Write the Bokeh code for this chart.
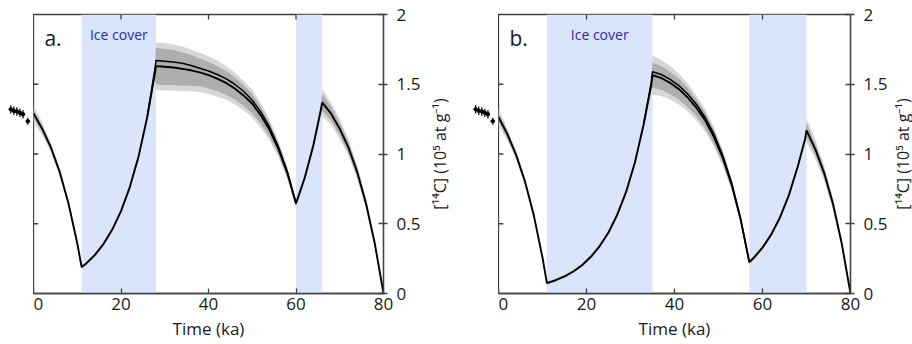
import math
from bokeh.plotting import figure
from bokeh.layouts import row
from bokeh.models import Range1d, FixedTicker, Label
from bokeh.embed import file_html
from bokeh.resources import INLINE

FONT = "Open Sans"
AXC = "#404040"
TXT = "#1a1a1a"

x_ticks = [0, 20, 40, 60, 80]
y_ticks = [0, 0.5, 1, 1.5, 2]
y_tick_labels = ["0", "0.5", "1", "1.5", "2"]
x_label = "Time (ka)"
y_label = "[\u00b9\u2074C] (10\u2075 at g\u207b\u00b9)"

# ---------------- panel a ----------------
a_x = [0, 2, 4, 6, 8, 10, 11, 12, 14, 16, 18, 20, 22, 24, 26, 27.7, 28, 30, 32, 34, 36, 38, 40,
       42, 44, 46, 48, 50, 52, 54, 56, 58, 60, 62, 64, 65.7, 66, 68, 70, 72, 74, 76, 78, 80]
a_c = [1.29, 1.18, 1.045, 0.87, 0.645, 0.36, 0.19, 0.214, 0.275, 0.355, 0.458, 0.59, 0.761, 0.981,
       1.265, 1.57, 1.63, 1.625, 1.62, 1.61, 1.60, 1.585, 1.565, 1.54, 1.51, 1.47, 1.42, 1.36, 1.275,
       1.17, 1.035, 0.865, 0.645, 0.83, 1.066, 1.32, 1.37, 1.29, 1.18, 1.045, 0.87, 0.645, 0.36, 0.0]
a_ux = [26, 27.7, 28, 30, 32, 34, 36, 38, 40, 42, 44, 46, 48, 50, 52, 54, 56, 58, 60]
a_uc = [1.27, 1.60, 1.67, 1.665, 1.66, 1.65, 1.635, 1.615, 1.595, 1.57, 1.54, 1.50, 1.45, 1.385,
        1.30, 1.19, 1.05, 0.875, 0.645]
a_in = [0.03, 0.025, 0.02, 0.018, 0.015, 0.012, 0.01, 0.01, 0.01, 0.012, 0.013, 0.015, 0.018, 0.02,
        0.025, 0.03, 0.13, 0.13, 0.125, 0.12, 0.11, 0.10, 0.095, 0.09, 0.085, 0.08, 0.075, 0.07, 0.06,
        0.05, 0.04, 0.03, 0.02, 0.02, 0.025, 0.03, 0.06, 0.05, 0.045, 0.04, 0.035, 0.03, 0.02, 0.0]
a_out = [0.06, 0.045, 0.035, 0.03, 0.025, 0.02, 0.015, 0.015, 0.015, 0.018, 0.02, 0.022, 0.025, 0.03,
         0.04, 0.05, 0.17, 0.17, 0.165, 0.16, 0.15, 0.14, 0.135, 0.13, 0.12, 0.115, 0.105, 0.10, 0.09,
         0.075, 0.06, 0.045, 0.035, 0.03, 0.04, 0.05, 0.10, 0.08, 0.07, 0.06, 0.05, 0.04, 0.03, 0.0]
a_ice_start = [11, 60]
a_ice_end = [28, 66]

# ---------------- panel b ----------------
b_x = [0, 2, 4, 6, 8, 10, 11, 13, 15, 17, 19, 21, 23, 25, 27, 29, 31, 33, 34.7, 35, 37, 39, 41, 43,
       45, 47, 49, 51, 53, 55, 57, 58, 60, 62, 64, 66, 68, 69.7, 70, 72, 74, 76, 78, 80]
b_c = [1.265, 1.142, 0.994, 0.805, 0.564, 0.258, 0.074, 0.095, 0.122, 0.158, 0.203, 0.263, 0.34,
       0.437, 0.565, 0.728, 0.939, 1.213, 1.49, 1.565, 1.545, 1.51, 1.465, 1.405, 1.33, 1.24, 1.12,
       0.97, 0.78, 0.535, 0.225, 0.255, 0.329, 0.424, 0.547, 0.705, 0.908, 1.11, 1.17, 1.035, 0.865,
       0.645, 0.36, 0.0]
b_ux = [33, 34.7, 35, 37, 39, 41, 43, 45, 47, 49, 51, 53, 55, 57]
b_uc = [1.22, 1.51, 1.59, 1.57, 1.535, 1.49, 1.43, 1.355, 1.26, 1.14, 0.985, 0.79, 0.54, 0.225]
b_in = [0.03, 0.025, 0.02, 0.018, 0.015, 0.01, 0.008, 0.008, 0.008, 0.008, 0.01, 0.01, 0.012, 0.012,
        0.014, 0.016, 0.018, 0.02, 0.022, 0.09, 0.085, 0.08, 0.075, 0.07, 0.06, 0.055, 0.05, 0.04,
        0.03, 0.02, 0.012, 0.012, 0.012, 0.012, 0.014, 0.016, 0.018, 0.02, 0.05, 0.04, 0.035, 0.03,
        0.02, 0.0]
b_out = [0.06, 0.045, 0.035, 0.03, 0.025, 0.018, 0.015, 0.012, 0.012, 0.013, 0.015, 0.016, 0.018,
         0.02, 0.022, 0.025, 0.028, 0.03, 0.035, 0.14, 0.13, 0.12, 0.11, 0.10, 0.09, 0.08, 0.07, 0.06,
         0.045, 0.03, 0.02, 0.018, 0.018, 0.018, 0.02, 0.024, 0.028, 0.03, 0.085, 0.07, 0.055, 0.045,
         0.03, 0.0]
b_ice_start = [11, 57]
b_ice_end = [35, 70]

# measured concentrations (drawn left of the time axis)
obs_x = [-5.2, -4.5, -3.8, -3.1, -2.4, -1.3]
obs_c = [1.32, 1.31, 1.305, 1.295, 1.285, 1.235]
obs_err = [0.03, 0.03, 0.03, 0.03, 0.03, 0.025]

TOP, FH, BOT = 14, 279, 51


def bare(fw, xr):
    p = figure(frame_width=fw, frame_height=FH, x_range=xr, y_range=Range1d(0, 2),
               x_axis_location=None, y_axis_location=None, toolbar_location=None,
               output_backend="svg", min_border_left=0, min_border_right=0,
               min_border_top=TOP, min_border_bottom=BOT)
    p.outline_line_color = None
    p.xgrid.visible = False
    p.ygrid.visible = False
    return p


def make_obs(x_start, fw):
    p = bare(fw, Range1d(x_start, 0))
    p.segment(x0=obs_x, y0=[c - e for c, e in zip(obs_c, obs_err)], x1=obs_x,
              y1=[c + e for c, e in zip(obs_c, obs_err)], line_color="black", line_width=1.2)
    p.segment(x0=[x - 0.45 for x in obs_x], y0=obs_c, x1=[x + 0.45 for x in obs_x], y1=obs_c,
              line_color="black", line_width=1.2)
    p.scatter(obs_x, obs_c, size=3.5, color="black")
    return p


def make_ylabel(px_start, px_end, anchor):
    # x range is in pixels measured from the right axis line
    p = bare(px_end - px_start, Range1d(px_start, px_end))
    p.add_layout(Label(x=anchor, y=1.0, text=y_label, angle=math.pi / 2, text_align="center",
                       text_baseline="middle", text_font=FONT, text_font_size="16px",
                       text_color=TXT))
    return p


def make_panel(letter, xs, cs, ux, uc, w_in, w_out, ice_s, ice_e, fw, right_border):
    p = figure(frame_width=fw, frame_height=FH, x_range=Range1d(0, 80), y_range=Range1d(0, 2),
               y_axis_location="right", toolbar_location=None, output_backend="svg",
               min_border_left=0, min_border_right=right_border,
               min_border_top=TOP, min_border_bottom=BOT)
    p.outline_line_color = AXC
    p.outline_line_width = 1.3
    p.xgrid.visible = False
    p.ygrid.visible = False
    p.background_fill_color = "white"
    p.border_fill_color = "white"

    p.quad(left=ice_s, right=ice_e, bottom=0, top=2, fill_color="#dae4fb", line_color=None)

    p.varea(x=xs, y1=[c - w for c, w in zip(cs, w_out)], y2=[c + w for c, w in zip(cs, w_out)],
            fill_color="#d7d7d7")
    p.varea(x=xs, y1=[c - w for c, w in zip(cs, w_in)], y2=[c + w for c, w in zip(cs, w_in)],
            fill_color="#aeaeae")

    p.line(ux, uc, line_color="black", line_width=1.5)
    p.line(xs, cs, line_color="black", line_width=1.9)

    inner = y_ticks[1:-1]
    p.segment(x0=[0] * len(inner), y0=inner, x1=[1.1] * len(inner), y1=inner,
              line_color=AXC, line_width=1.3)
    top = x_ticks[1:-1]
    p.segment(x0=top, y0=[2] * len(top), x1=top, y1=[1.965] * len(top),
              line_color=AXC, line_width=1.3)

    xa = p.xaxis[0]
    xa.ticker = FixedTicker(ticks=x_ticks)
    xa.axis_line_color = AXC
    xa.axis_line_width = 1.3
    xa.major_tick_in = 5
    xa.major_tick_out = 0
    xa.minor_tick_line_color = None
    xa.major_tick_line_color = AXC
    xa.major_tick_line_width = 1.3
    xa.major_label_standoff = 4
    xa.major_label_text_font = FONT
    xa.major_label_text_font_size = "17px"
    xa.major_label_text_color = TXT
    xa.axis_label = x_label
    xa.axis_label_standoff = 4
    xa.axis_label_text_font = FONT
    xa.axis_label_text_font_size = "17px"
    xa.axis_label_text_font_style = "normal"
    xa.axis_label_text_color = TXT

    ya = p.yaxis[0]
    ya.ticker = FixedTicker(ticks=y_ticks)
    ya.major_label_overrides = {t: s for t, s in zip(y_ticks, y_tick_labels)}
    ya.axis_line_color = AXC
    ya.axis_line_width = 1.3
    ya.major_tick_in = 5
    ya.major_tick_out = 4
    ya.minor_tick_line_color = None
    ya.major_tick_line_color = AXC
    ya.major_tick_line_width = 1.3
    ya.major_label_standoff = 9
    ya.major_label_text_font = FONT
    ya.major_label_text_font_size = "17px"
    ya.major_label_text_color = TXT

    p.add_layout(Label(x=2.5, y=1.83, text=letter, text_align="left", text_baseline="alphabetic",
                       text_font=FONT, text_font_size="21px", text_color=TXT))
    p.add_layout(Label(x=(ice_s[0] + ice_e[0]) / 2, y=1.855, text="Ice cover", text_align="center",
                       text_baseline="alphabetic", text_font=FONT, text_font_size="14px",
                       text_color="#2a2ab4"))
    return p


oa = make_obs(-33 / 4.375, 33)
pa = make_panel("a.", a_x, a_c, a_ux, a_uc, a_in, a_out, a_ice_start, a_ice_end, 350, 40)
la = make_ylabel(40, 83, 56)
ob = make_obs(-32 / 4.4, 32)
pb = make_panel("b.", b_x, b_c, b_ux, b_uc, b_in, b_out, b_ice_start, b_ice_end, 352, 40)
lb = make_ylabel(40, 62, 52)

layout = row(oa, pa, la, ob, pb, lb)
open("out.html", "w").write(file_html(layout, INLINE))
